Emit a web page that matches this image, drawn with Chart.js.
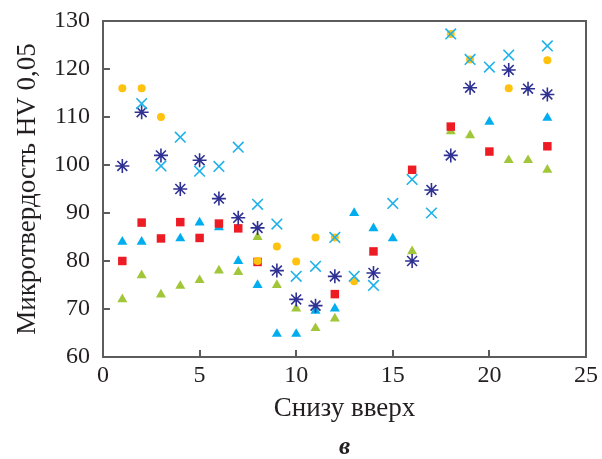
<!DOCTYPE html>
<html>
<head>
<meta charset="utf-8">
<script src="https://cdn.jsdelivr.net/npm/chart.js@4"></script>
<style>
  body { margin: 0; background: #fff; }
</style>
</head>
<body>
<canvas id="chart" width="602" height="459"></canvas>
<script>
// data
const redX = [1, 2, 3, 4, 5, 6, 7, 8, 12, 14, 16, 18, 20, 23];
const redY = [80, 88, 84.7, 88.1, 84.8, 87.8, 86.8, 79.8, 73.1, 82, 99, 108, 102.8, 103.9];

const blueTriX = [1, 2, 4, 5, 6, 7, 8, 9, 10, 11, 12, 13, 14, 15, 20, 23];
const blueTriY = [84, 84, 84.7, 88, 87, 80, 75, 64.8, 64.8, 69.6, 70.1, 90, 86.8, 84.7, 109, 109.8];

const greenX = [1, 2, 3, 4, 5, 6, 7, 8, 9, 10, 11, 12, 16, 18, 19, 21, 22, 23];
const greenY = [72, 77, 73, 74.8, 76, 78, 77.7, 85, 75, 70.1, 66, 68, 82, 107, 106.2, 101, 101, 99];

const yellowX = [1, 2, 3, 8, 9, 10, 11, 12, 13, 18, 19, 21, 23];
const yellowY = [116, 116, 110, 80, 83, 79.9, 84.9, 84.9, 75.8, 127.3, 122, 116, 121.8];

const crossX = [2, 3, 4, 5, 6, 7, 8, 9, 10, 11, 12, 13, 14, 15, 16, 17, 18, 19, 20, 21, 23];
const crossY = [112.8, 99.8, 105.8, 98.7, 99.7, 103.7, 91.8, 87.7, 76.8, 78.9, 84.9, 76.8, 74.9, 92, 97, 90, 127.3, 122, 120.4, 122.9, 124.8];

const starX = [1, 2, 3, 4, 5, 6, 7, 8, 9, 10, 11, 12, 14, 16, 17, 18, 19, 21, 22, 23];
const starY = [99.8, 111, 102, 95, 101, 93, 89, 86.9, 78, 72, 70.7, 76.8, 77.5, 80, 94.8, 102, 116.1, 119.8, 115.9, 114.7];

const xTicks = [0, 5, 10, 15, 20, 25];
const yTicks = [60, 70, 80, 90, 100, 110, 120, 130];

function pts(xs, ys) {
  return xs.map((v, i) => ({x: v, y: ys[i]}));
}

const textColor = '#231f20';
const serif = '"Liberation Serif", "Times New Roman", serif';

// box round the plot, inward ticks, caption "в"
const frame = {
  id: 'frame',
  beforeDatasetsDraw(chart) {
    const {ctx, chartArea: a, scales: {x, y}} = chart;
    ctx.save();
    ctx.strokeStyle = '#5c5c5c';
    ctx.lineWidth = 2;
    ctx.strokeRect(a.left, a.top, a.right - a.left, a.bottom - a.top);
    ctx.beginPath();
    xTicks.forEach(t => {
      const px = Math.round(x.getPixelForValue(t));
      ctx.moveTo(px, a.bottom);
      ctx.lineTo(px, a.bottom - 7);
    });
    yTicks.forEach(t => {
      const py = Math.round(y.getPixelForValue(t));
      ctx.moveTo(a.left, py);
      ctx.lineTo(a.left + 7, py);
    });
    ctx.stroke();
    ctx.restore();
  },
  afterDraw(chart) {
    const {ctx, chartArea: a} = chart;
    ctx.save();
    ctx.fillStyle = textColor;
    ctx.font = 'italic bold 25px ' + serif;
    ctx.textAlign = 'center';
    ctx.textBaseline = 'alphabetic';
    ctx.fillText('в', (a.left + a.right) / 2, 454);
    ctx.restore();
  }
};

Chart.defaults.font.family = serif;
Chart.defaults.color = textColor;

const ctx = document.getElementById('chart');
new Chart(ctx, {
  type: 'scatter',
  data: {
    datasets: [
      {
        label: 'x',
        data: pts(crossX, crossY),
        pointStyle: 'crossRot',
        pointRadius: 7.5,
        borderColor: '#1fb2ea',
        borderWidth: 1.6,
        backgroundColor: '#1fb2ea'
      },
      {
        label: 'star',
        data: pts(starX, starY),
        pointStyle: 'star',
        pointRadius: 7,
        borderColor: '#2e3192',
        borderWidth: 1.6,
        backgroundColor: '#2e3192'
      },
      {
        label: 'circle',
        data: pts(yellowX, yellowY),
        pointStyle: 'circle',
        pointRadius: 4,
        borderWidth: 0,
        backgroundColor: '#ffc20e'
      },
      {
        label: 'square',
        data: pts(redX, redY),
        pointStyle: 'rect',
        pointRadius: 6,
        borderWidth: 0,
        backgroundColor: '#ed1c24'
      },
      {
        label: 'tri blue',
        data: pts(blueTriX, blueTriY),
        pointStyle: 'triangle',
        pointRadius: 5.8,
        borderWidth: 0,
        backgroundColor: '#00aeef'
      },
      {
        label: 'tri green',
        data: pts(greenX, greenY),
        pointStyle: 'triangle',
        pointRadius: 5.8,
        borderWidth: 0,
        backgroundColor: '#a2c63a'
      }
    ]
  },
  options: {
    responsive: false,
    animation: false,
    events: [],
    layout: {
      padding: {left: 0, top: 21, right: 16, bottom: 0}
    },
    plugins: {
      legend: {display: false},
      tooltip: {enabled: false}
    },
    scales: {
      x: {
        type: 'linear',
        min: 0,
        max: 25,
        afterFit: s => { s.height = 102; s.paddingLeft = 0; s.paddingRight = 0; },
        afterBuildTicks: s => { s.ticks = xTicks.map(v => ({value: v})); },
        grid: {display: false, drawTicks: false},
        border: {display: false},
        ticks: {
          padding: 4,
          font: {size: 24},
          color: textColor
        },
        title: {
          display: true,
          text: 'Снизу вверх',
          font: {size: 27},
          color: textColor,
          padding: {top: 0, bottom: 34}
        }
      },
      y: {
        min: 60,
        max: 130,
        afterFit: s => { s.width = 103; s.paddingTop = 0; s.paddingBottom = 0; },
        afterBuildTicks: s => { s.ticks = yTicks.map(v => ({value: v})); },
        grid: {display: false, drawTicks: false},
        border: {display: false},
        ticks: {
          padding: 13,
          font: {size: 24},
          color: textColor
        },
        title: {
          display: true,
          text: 'Микротвердость HV 0,05',
          font: {size: 27},
          color: textColor,
          padding: {top: 12, bottom: 0}
        }
      }
    }
  },
  plugins: [frame]
});
</script>
</body>
</html>
